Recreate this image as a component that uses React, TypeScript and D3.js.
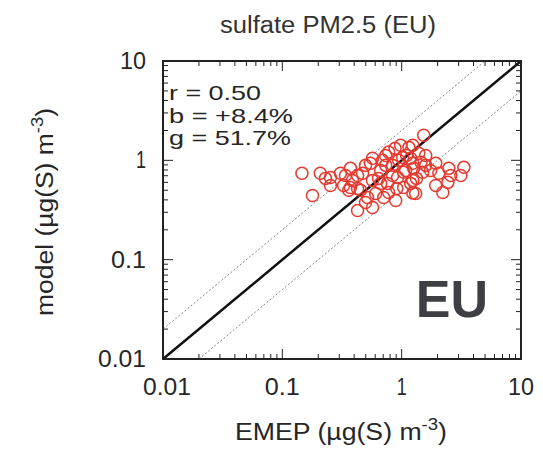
import React from "react";
import * as d3 from "d3";

const emep = [
  0.146, 0.179, 0.208, 0.23, 0.253, 0.253, 0.307, 0.326, 0.372, 0.387,
  0.427, 0.372, 0.427, 0.498, 0.47, 0.548, 0.57, 0.605, 0.667, 0.692,
  0.762, 0.778, 0.839, 0.891, 0.925, 1.02, 1.08, 1.15, 1.19, 1.24,
  1.53, 1.24, 1.39, 1.19, 1.45, 1.26, 1.5, 1.24, 1.31, 1.93,
  2.05, 2.48, 1.93, 2.44, 3.32, 3.13, 2.21, 0.57, 0.518, 0.36,
  0.706, 0.778, 1.04, 1.24, 0.498, 0.57, 0.64, 0.735, 0.839, 0.944,
  0.98, 1.04, 1.1, 0.91, 1.33, 1.59, 1.59, 0.667, 0.427, 0.338,
  0.452, 0.735, 0.88, 2.58, 1.75,
];
const model = [
  0.74, 0.443, 0.74, 0.658, 0.673, 0.559, 0.74, 0.559, 0.83, 0.628,
  0.521, 0.533, 0.313, 0.377, 0.74, 0.933, 0.628, 0.464, 0.79, 1.0,
  0.586, 1.21, 0.89, 0.394, 0.673, 1.07, 0.79, 1.35, 0.586, 0.933,
  1.79, 1.42, 1.18, 1.05, 0.955, 0.83, 0.757, 0.628, 0.464, 0.933,
  0.74, 0.83, 0.559, 0.6, 0.85, 0.705, 0.475, 0.335, 0.423, 0.5,
  0.423, 0.475, 0.533, 0.47, 0.89, 1.05, 0.658, 0.89, 0.705, 1.0,
  1.42, 0.757, 1.12, 0.521, 0.658, 1.12, 0.89, 0.586, 0.705, 0.705,
  0.5, 1.12, 1.32, 0.705, 0.79,
];

const majorTicks = [0.01, 0.1, 1, 10];
const tickLabels = ["0.01", "0.1", "1", "10"];
const stats = ["r = 0.50", "b = +8.4%", "g = 51.7%"];
const title = "sulfate PM2.5 (EU)";
const region = "EU";

const W = 543;
const H = 450;
const X0 = 163, X1 = 521, Y0 = 61, Y1 = 359;
const font = "'Liberation Sans', Arial, Helvetica, sans-serif";
const ink = "#262626";

// widths of the labels as drawn in the (horizontally stretched) reference
const tickLabelWidths = [48, 35, 10, 26];
const statWidths = [92, 124, 122];

export default function App() {
  const x = d3.scaleLog().domain([0.01, 10]).range([X0, X1]);
  const y = d3.scaleLog().domain([0.01, 10]).range([Y1, Y0]);

  const minor: number[] = [];
  [0.01, 0.1, 1].forEach((d) => {
    for (let k = 2; k <= 9; k++) minor.push(d * k);
  });

  const line = d3
    .line<[number, number]>()
    .x((d) => x(d[0]))
    .y((d) => y(d[1]));

  const oneToOne: [number, number][] = [[0.01, 0.01], [10, 10]];
  const upper: [number, number][] = [[0.01, 0.02], [5, 10]];
  const lower: [number, number][] = [[0.02, 0.01], [10, 5]];

  const major = 10;
  const minorLen = 5;

  return (
    <svg
      width={W}
      height={H}
      style={{ position: "absolute", left: 0, top: 0, background: "#fff" }}
      fontFamily={font}
    >
      <rect x={0} y={0} width={W} height={H} fill="#fff" />
      <text x={328} y={33} fontSize={23} textAnchor="middle" fill="#333" textLength={216} lengthAdjust="spacingAndGlyphs">
        {title}
      </text>

      {/* reference lines */}
      <path d={line(upper) || ""} stroke="#888" strokeWidth={1} strokeDasharray="2,2" fill="none" />
      <path d={line(lower) || ""} stroke="#888" strokeWidth={1} strokeDasharray="2,2" fill="none" />
      <path d={line(oneToOne) || ""} stroke="#111" strokeWidth={2.5} fill="none" />

      {/* points */}
      {emep.map((v, i) => (
        <circle key={i} cx={x(v)} cy={y(model[i])} r={6} fill="none" stroke="#e5392f" strokeWidth={1.5} />
      ))}

      {/* ticks */}
      <g stroke="#222" strokeWidth={1}>
        {majorTicks.map((t, i) => (
          <g key={"M" + i}>
            <line x1={x(t)} x2={x(t)} y1={Y1} y2={Y1 - major} />
            <line x1={x(t)} x2={x(t)} y1={Y0} y2={Y0 + major} />
            <line y1={y(t)} y2={y(t)} x1={X0} x2={X0 + major} />
            <line y1={y(t)} y2={y(t)} x1={X1} x2={X1 - major} />
          </g>
        ))}
        {minor.map((t, i) => (
          <g key={"m" + i}>
            <line x1={x(t)} x2={x(t)} y1={Y1} y2={Y1 - minorLen} />
            <line x1={x(t)} x2={x(t)} y1={Y0} y2={Y0 + minorLen} />
            <line y1={y(t)} y2={y(t)} x1={X0} x2={X0 + minorLen} />
            <line y1={y(t)} y2={y(t)} x1={X1} x2={X1 - minorLen} />
          </g>
        ))}
      </g>

      {/* frame */}
      <rect x={X0} y={Y0} width={X1 - X0} height={Y1 - Y0} fill="none" stroke="#222" strokeWidth={2} />

      {/* tick labels */}
      {majorTicks.map((t, i) => (
        <text key={"xl" + i} x={x(t) + (i === 0 ? 4 : 0)} y={395} fontSize={23} textAnchor="middle" fill={ink}
          textLength={tickLabelWidths[i]} lengthAdjust="spacingAndGlyphs">
          {tickLabels[i]}
        </text>
      ))}
      {majorTicks.map((t, i) => (
        <text key={"yl" + i} x={146} y={y(t) + 8} fontSize={23} textAnchor="end" fill={ink}
          textLength={tickLabelWidths[i]} lengthAdjust="spacingAndGlyphs">
          {tickLabels[i]}
        </text>
      ))}

      {/* stats */}
      {stats.map((s, i) => (
        <text key={"s" + i} x={169} y={100 + i * 22.5} fontSize={21} fill={ink}
          textLength={statWidths[i]} lengthAdjust="spacingAndGlyphs">
          {s}
        </text>
      ))}

      <text x={488} y={317} fontSize={52} fontWeight="bold" textAnchor="end" fill="#3d3f44">
        {region}
      </text>

      {/* axis titles */}
      <text x={341} y={440} fontSize={23} textAnchor="middle" fill={ink} textLength={212} lengthAdjust="spacingAndGlyphs">
        EMEP (µg(S) m
        <tspan dy={-10} fontSize={16}>-3</tspan>
        <tspan dy={10}>)</tspan>
      </text>
      <text transform={`translate(53,212) rotate(-90)`} x={0} y={0} fontSize={23} textAnchor="middle" fill={ink}
        textLength={208} lengthAdjust="spacingAndGlyphs">
        model (µg(S) m
        <tspan dy={-10} fontSize={16}>-3</tspan>
        <tspan dy={10}>)</tspan>
      </text>
    </svg>
  );
}
